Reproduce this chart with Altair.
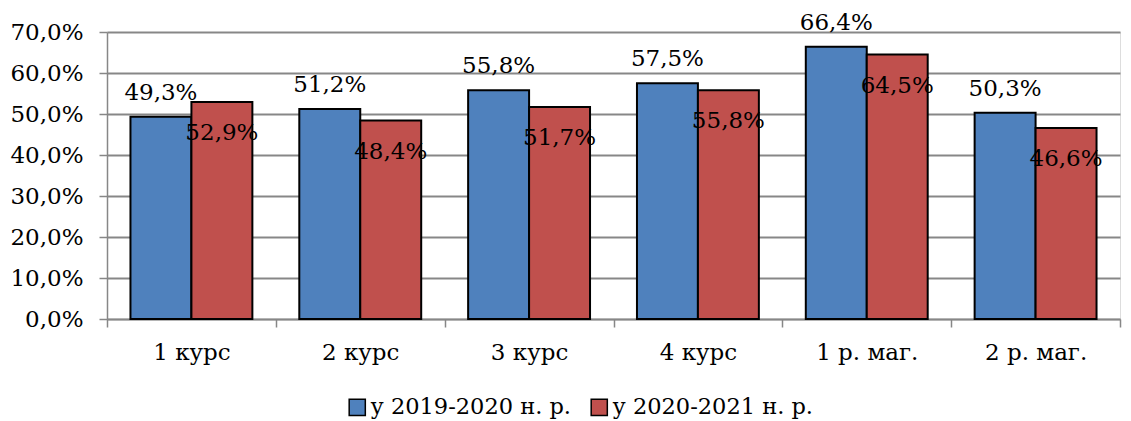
import altair as alt
import pandas as pd

categories = ["1 курс", "2 курс", "3 курс", "4 курс", "1 р. маг.", "2 р. маг."]
series_names = ["у 2019-2020 н. р.", "у 2020-2021 н. р."]
values_2019 = [49.3, 51.2, 55.8, 57.5, 66.4, 50.3]
values_2020 = [52.9, 48.4, 51.7, 55.8, 64.5, 46.6]
colors = ["#4F81BD", "#C0504D"]

rows = []
for c, v in zip(categories, values_2019):
    rows.append({"cat": c, "series": series_names[0], "value": v / 100})
for c, v in zip(categories, values_2020):
    rows.append({"cat": c, "series": series_names[1], "value": v / 100})
df = pd.DataFrame(rows)

FONT = "DejaVu Serif"
FS = 23
GRID = "#878787"

base = alt.Chart(df).transform_calculate(
    label="replace(format(datum.value, '.1%'), '.', ',')"
)

x = alt.X("cat:N", sort=categories, title=None,
          scale=alt.Scale(paddingInner=0, paddingOuter=0),
          axis=alt.Axis(labelAngle=0, labelFont=FONT, labelFontSize=FS, labelColor="black",
                        labelPadding=14, tickBand="extent", tickSize=8, tickColor=GRID,
                        tickWidth=1.5, domainColor=GRID, domainWidth=1.5, grid=False))
xo = alt.XOffset("series:N", sort=series_names,
                 scale=alt.Scale(paddingInner=0, paddingOuter=0.385))
y = alt.Y("value:Q", title=None,
          scale=alt.Scale(domain=[0, 0.7], nice=False),
          axis=alt.Axis(values=[0, 0.1, 0.2, 0.3, 0.4, 0.5, 0.6, 0.7],
                        labelExpr="replace(format(datum.value, '.1%'), '.', ',')",
                        labelFont=FONT, labelFontSize=FS, labelColor="black", labelPadding=16,
                        tickSize=8, tickColor=GRID, tickWidth=1.5,
                        domainColor=GRID, domainWidth=1.5,
                        gridColor=GRID, gridWidth=1.8))

bars = base.mark_bar(stroke="black", strokeWidth=2).encode(
    x=x, xOffset=xo, y=y,
    color=alt.Color("series:N", sort=series_names,
                    scale=alt.Scale(domain=series_names, range=colors),
                    legend=alt.Legend(title=None, orient="none", direction="horizontal",
                                      legendX=239, legendY=364,
                                      symbolType="square", symbolSize=260,
                                      symbolStrokeColor="black", symbolStrokeWidth=1.5,
                                      symbolOpacity=1, labelLimit=0,
                                      labelFont=FONT, labelFontSize=22.5, labelColor="black",
                                      labelOffset=2, columnPadding=16)),
)

text_blue = base.transform_filter(alt.datum.series == series_names[0]).mark_text(
    font=FONT, fontSize=FS, color="black", baseline="alphabetic", dy=-17
).encode(x=x, xOffset=xo, y=y, text="label:N")

text_red = base.transform_filter(alt.datum.series == series_names[1]).mark_text(
    font=FONT, fontSize=FS, color="black", baseline="alphabetic", dy=38
).encode(x=x, xOffset=xo, y=y, text="label:N")

chart = alt.layer(bars, text_blue, text_red).properties(
    width=1013, height=287,
    autosize=alt.AutoSizeParams(type="none"),
    padding={"left": 99, "top": 24, "right": 3, "bottom": 100},
).configure_view(stroke=None).configure(background="white")

chart.save("out.html", embed_options={"renderer": "svg", "actions": False})
